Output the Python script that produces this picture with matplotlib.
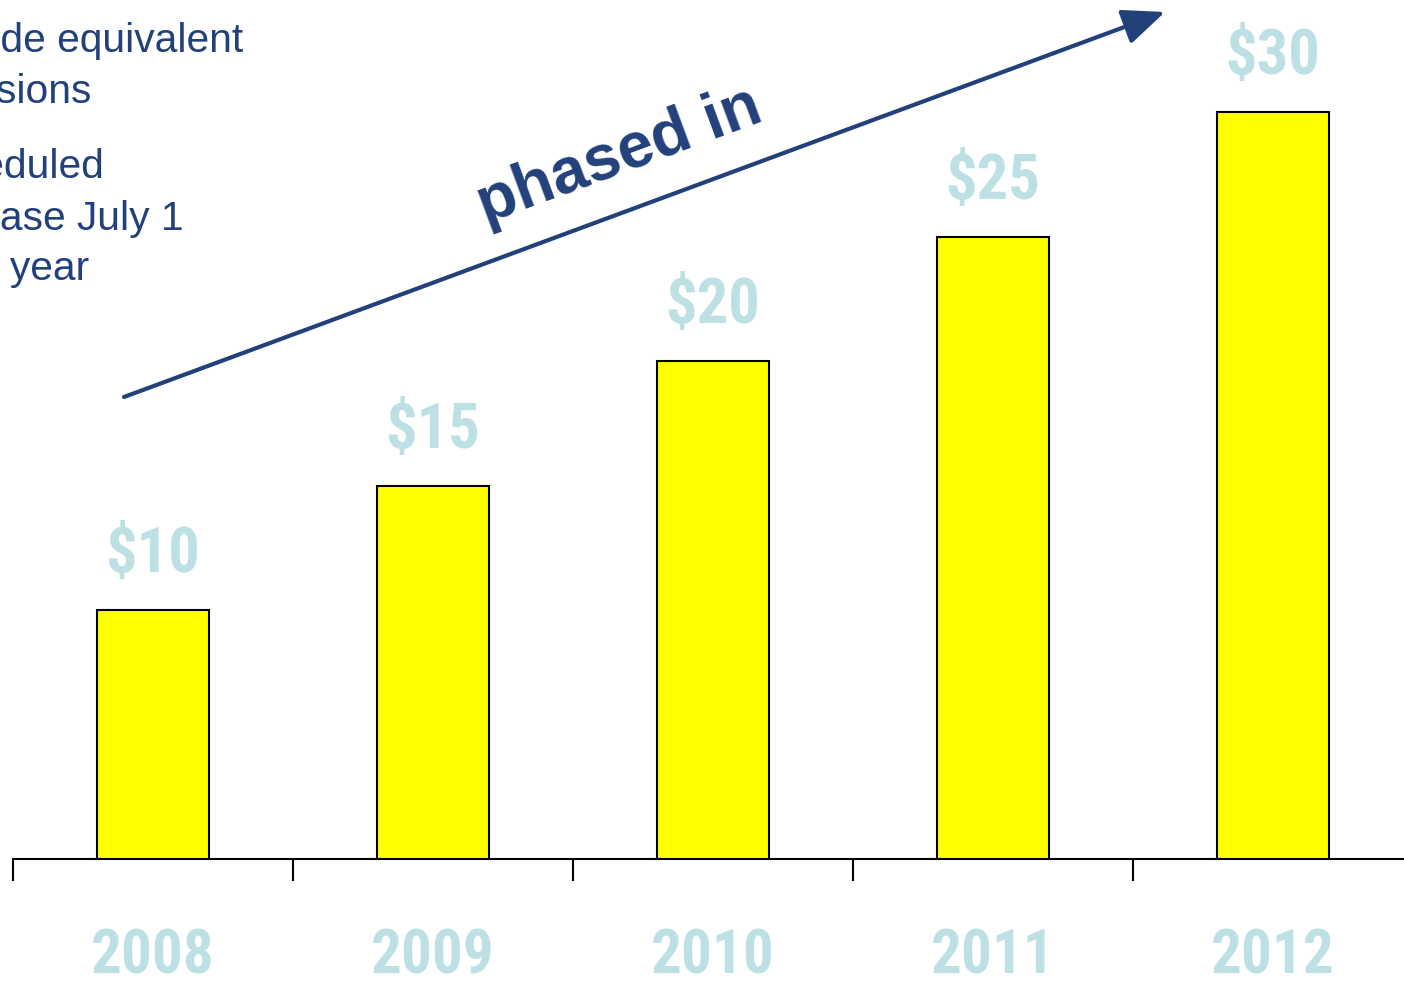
import matplotlib
matplotlib.use('Agg')
import matplotlib.pyplot as plt
from matplotlib import font_manager

years = ['2008', '2009', '2010', '2011', '2012']
fee = [10, 15, 20, 25, 30]
value_labels = ['$10', '$15', '$20', '$25', '$30']

side_notes = [
    '$10 per metric ton of',
    'carbon dioxide equivalent',
    'emissions',
    'Scheduled',
    'to increase July 1',
    'each year',
]

NAVY = '#22407A'
PALE = '#BDE0E5'

installed = {f.name for f in font_manager.fontManager.ttflist}
narrow = next((n for n in ['Liberation Sans Narrow', 'Roboto Condensed',
                           'Archivo Narrow', 'PT Sans Narrow']
               if n in installed), 'Liberation Sans')

W, H = 1404, 981
fig = plt.figure(figsize=(W / 100, H / 100), dpi=100)

# axis baseline sits 859 px from the top, ~24.9 px per dollar
px_per_unit = 24.9
ymax = 36
ax = fig.add_axes([13 / W, (H - 859) / H, 1400 / W, ymax * px_per_unit / H])
ax.set_xlim(-0.5, 4.5)
ax.set_ylim(0, ymax)

x = list(range(len(years)))
ax.bar(x, fee, width=0.4, color='#FFFF00', edgecolor='black', linewidth=1.5,
       zorder=3)

for xi, v, lab in zip(x, fee, value_labels):
    ax.text(xi, v + 1.52, lab, ha='center', va='baseline',
            fontsize=45, fontweight='bold', color=PALE, family=narrow)

for xi, yr in zip(x, years):
    ax.text(xi, -115 / px_per_unit, yr, ha='center', va='baseline',
            fontsize=44, fontweight='bold', color=PALE, family=narrow,
            clip_on=False)

for s in ['left', 'right', 'top']:
    ax.spines[s].set_visible(False)
ax.spines['bottom'].set_linewidth(1.5)
ax.set_yticks([])
ax.set_xticks([i - 0.5 for i in range(len(years) + 1)])
ax.set_xticklabels([])
ax.tick_params(axis='x', direction='out', length=16, width=1.5)


# trend arrow and its caption, in figure pixel coordinates
def fx(px):
    return px / W


def fy(py):
    return 1 - py / H


fig.add_artist(matplotlib.patches.FancyArrowPatch(
    (fx(124), fy(397)), (fx(1165), fy(12)), transform=fig.transFigure,
    arrowstyle='-|>,head_length=1.3,head_width=0.55', mutation_scale=20,
    color=NAVY, linewidth=3, shrinkA=0, shrinkB=0))
fig.text(fx(620), fy(156), 'phased in', rotation=20.3, rotation_mode='anchor',
         ha='center', va='center', fontsize=46, fontweight='bold',
         color=NAVY, family='Liberation Sans')

# bullet text clipped at the left edge
right_edges = [203, 243, 92, 104, 184, 89]
baselines = [0, 52, 103, 178, 230, 280]
for txt, r, b in zip(side_notes, right_edges, baselines):
    fig.text(fx(r), fy(b), txt, ha='right', va='baseline', fontsize=29.3,
             color=NAVY, family='Liberation Sans')

fig.savefig('out.png', dpi=100)
